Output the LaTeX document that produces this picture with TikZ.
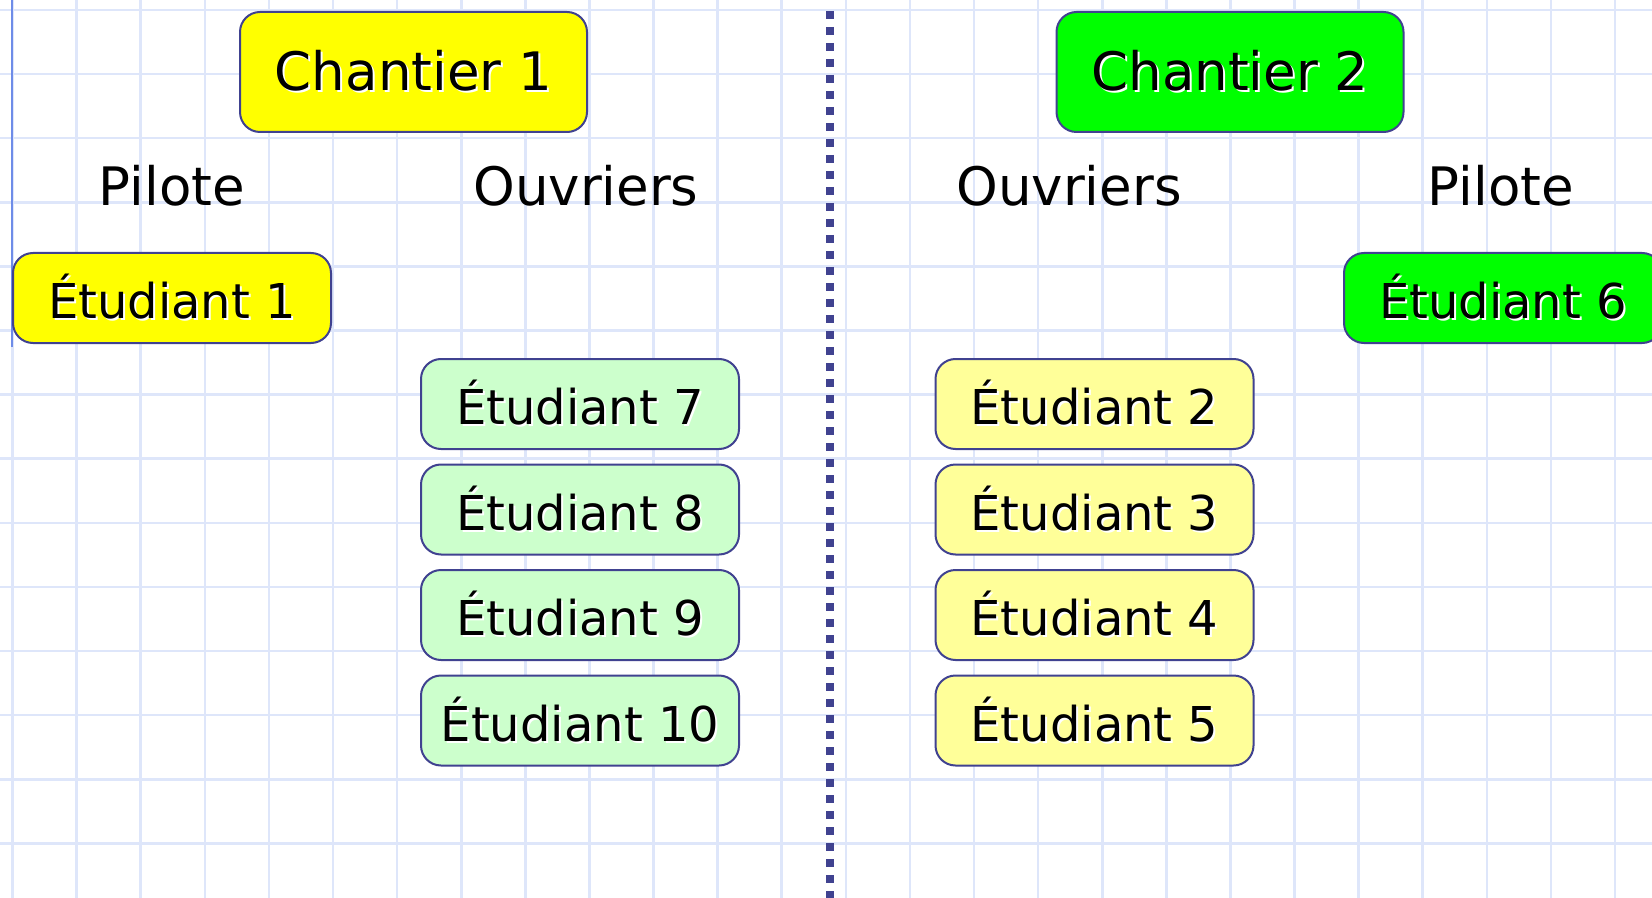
\documentclass[tikz,border=0pt]{standalone}
\usepackage{fontspec}
\setmainfont{DejaVu Sans}
\definecolor{bord}{RGB}{64,66,144}
\definecolor{grille}{RGB}{222,230,250}
\definecolor{marge}{RGB}{110,140,232}
\definecolor{jaune}{RGB}{255,255,0}
\definecolor{vert}{RGB}{0,255,0}
\definecolor{vertpale}{RGB}{204,255,204}
\definecolor{jaunepale}{RGB}{255,255,153}
\newcommand{\ombre}[1]{\makebox[0pt][l]{\hspace{1pt}\raisebox{-1pt}{\textcolor{white}{#1}}}#1}

\begin{document}
\begin{tikzpicture}[x=0.5pt,y=-0.5pt,
  boite/.style={draw=bord,line width=1pt,rounded corners=10pt,inner sep=0pt},
  chantier/.style={boite,minimum width=173.5pt,minimum height=60pt,font=\fontsize{26.5}{30}\selectfont},
  etud/.style={boite,minimum width=159pt,minimum height=45pt,font=\fontsize{24}{28}\selectfont},
  role/.style={font=\fontsize{26.5}{30}\selectfont}]
\useasboundingbox (0,0) rectangle (1652,898);
\clip (0,0) rectangle (1652,898);
\fill[white] (0,0) rectangle (1652,898);
% grille
\foreach \x in {0,...,25} \draw[grille,line width=1.3pt] (12.5+64.1*\x,0) -- +(0,898);
\foreach \y in {0,...,13} \draw[grille,line width=1.3pt] (0,10+64.1*\y) -- +(1652,0);
\draw[marge,line width=0.8pt] (12,0) -- (12,347);
\draw[bord,line width=4pt,dash pattern=on 4pt off 4pt] (830,11) -- (830,898);

% chantier 1
\node (C1)[chantier,fill=jaune] at (413.5,72) {\ombre{Chantier 1}};
\node (P1)[role] at (172,186) {Pilote};
\node (O1)[role] at (586,186) {Ouvriers};
\node (E1)[etud,fill=jaune] at (172,298) {\ombre{Étudiant 1}};
\draw (580,404) node (E7)[etud,fill=vertpale] {\ombre{Étudiant 7}}
  +(0,105.5) node (E8)[etud,fill=vertpale] {\ombre{Étudiant 8}}
  +(0,211) node (E9)[etud,fill=vertpale] {\ombre{Étudiant 9}}
  +(0,316.5) node (E10)[etud,fill=vertpale] {\ombre{Étudiant 10}};

% chantier 2
\node (C2)[chantier,fill=vert] at (1230,72) {\ombre{Chantier 2}};
\node (O2)[role] at (1069,186) {Ouvriers};
\node (P2)[role] at (1501,186) {Pilote};
\node (E6)[etud,fill=vert] at (1503,298) {\ombre{Étudiant 6}};
\draw (1094.5,404) node (E2)[etud,fill=jaunepale] {\ombre{Étudiant 2}}
  +(0,105.5) node (E3)[etud,fill=jaunepale] {\ombre{Étudiant 3}}
  +(0,211) node (E4)[etud,fill=jaunepale] {\ombre{Étudiant 4}}
  +(0,316.5) node (E5)[etud,fill=jaunepale] {\ombre{Étudiant 5}};
\end{tikzpicture}
\end{document}
